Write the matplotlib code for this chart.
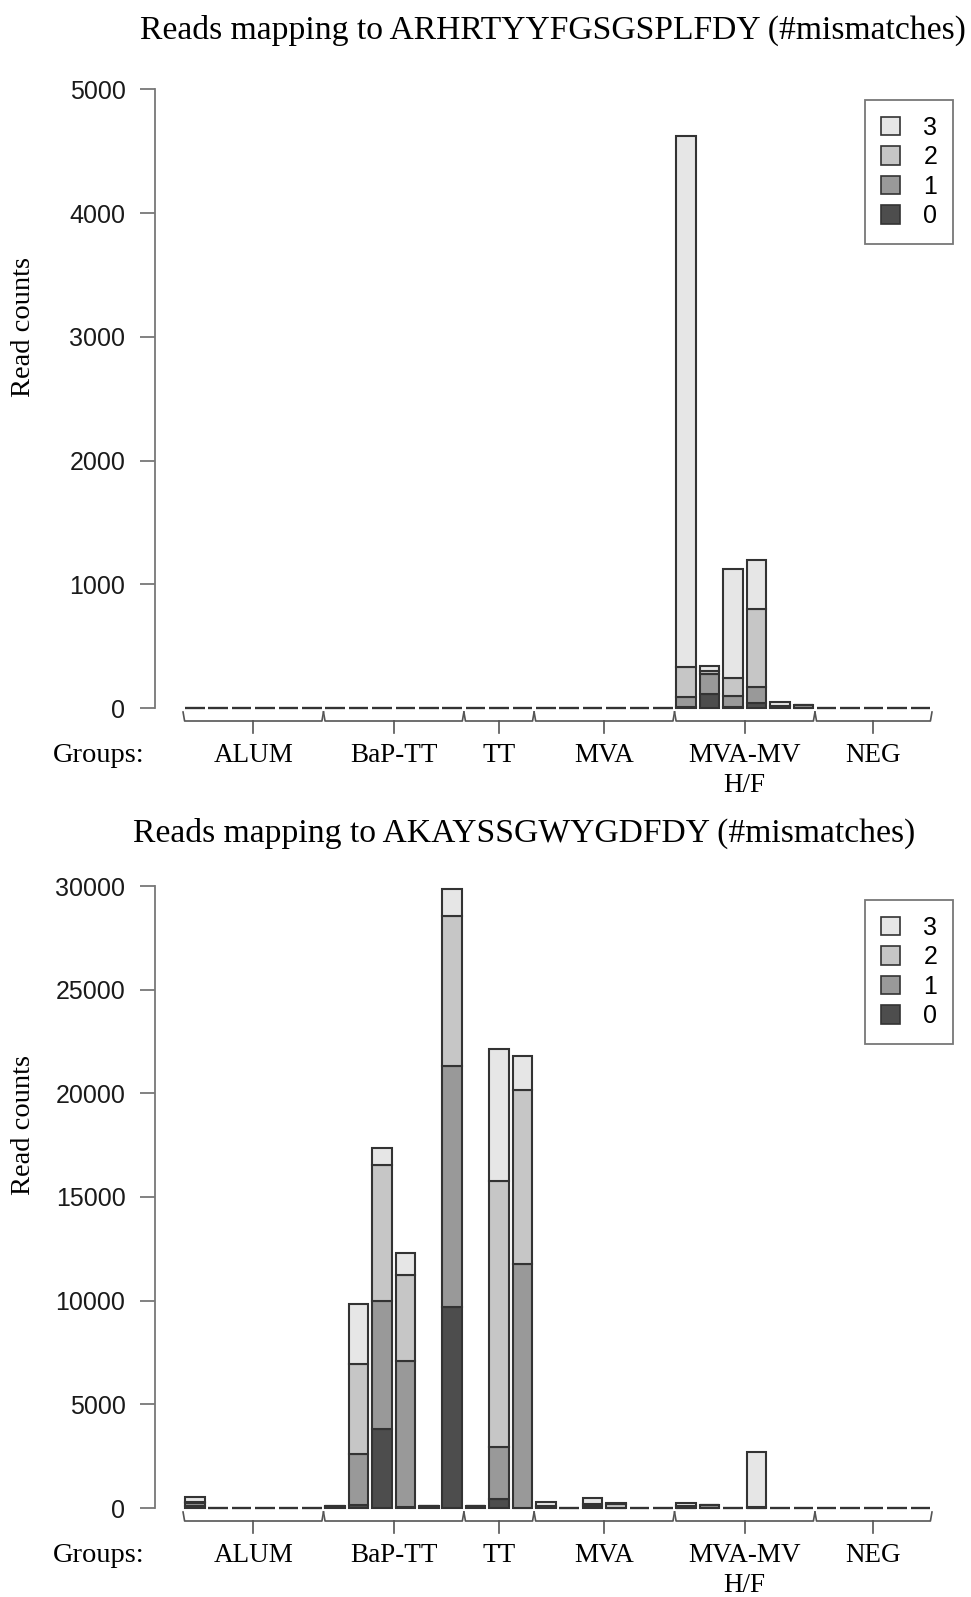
import matplotlib
matplotlib.use("Agg")
import matplotlib.pyplot as plt
from matplotlib.patches import Patch

# groups and bars per group (6+6+3+6+6+5 = 32 samples)
groups = ["ALUM", "BaP-TT", "TT", "MVA", "MVA-MV", "NEG"]
group_sizes = [6, 6, 3, 6, 6, 5]
mismatch_labels = ["0", "1", "2", "3"]

# top panel: ARHRTYYFGSGSPLFDY, read counts per #mismatches
top_mm0 = [0, 0, 0, 0, 0, 0,  0, 0, 0, 0, 0, 0,  0, 0, 0,  0, 0, 0, 0, 0, 0,
           5, 110, 10, 40, 15, 0,  0, 0, 0, 0, 0]
top_mm1 = [0, 0, 0, 0, 0, 0,  0, 0, 0, 0, 0, 0,  0, 0, 0,  0, 0, 0, 0, 0, 0,
           80, 165, 90, 130, 0, 25,  0, 0, 0, 0, 0]
top_mm2 = [0, 0, 0, 0, 0, 0,  0, 0, 0, 0, 0, 0,  0, 0, 0,  0, 0, 0, 0, 0, 0,
           245, 25, 140, 630, 5, 0,  0, 0, 0, 0, 0]
top_mm3 = [0, 0, 0, 0, 0, 0,  0, 0, 0, 0, 0, 0,  0, 0, 0,  0, 0, 0, 0, 0, 0,
           4290, 40, 880, 400, 30, 0,  0, 0, 0, 0, 0]

# bottom panel: AKAYSSGWYGDFDY
bot_mm0 = [100, 0, 0, 0, 0, 0,  40, 150, 3830, 30, 80, 9700,  110, 430, 20,
           50, 0, 80, 20, 0, 0,  0, 20, 0, 10, 0, 0,  0, 0, 0, 0, 0]
bot_mm1 = [150, 0, 0, 0, 0, 0,  40, 2460, 6155, 7070, 0, 11600,  0, 2500, 11750,
           30, 0, 100, 0, 0, 0,  20, 120, 0, 10, 0, 0,  0, 0, 0, 0, 0]
bot_mm2 = [50, 0, 0, 0, 0, 0,  0, 4350, 6540, 4135, 0, 7250,  0, 12840, 8400,
           20, 0, 0, 150, 0, 0,  60, 0, 0, 30, 0, 0,  0, 0, 0, 0, 0]
bot_mm3 = [250, 0, 0, 0, 0, 0,  0, 2880, 850, 1043, 0, 1300,  0, 6365, 1650,
           200, 0, 320, 80, 0, 0,  160, 0, 0, 2650, 0, 0,  0, 0, 0, 0, 0]

top_ticks = [0, 1000, 2000, 3000, 4000, 5000]
bot_ticks = [0, 5000, 10000, 15000, 20000, 25000, 30000]

colors = ["#4d4d4d", "#999999", "#c6c6c6", "#e6e6e6"]
edge = "#333333"
serif = "Liberation Serif"
sans = "Liberation Sans"

W, H = 971, 1597
fig = plt.figure(figsize=(W / 100, H / 100), dpi=100)


def fx(px):
    return px / W


def fy(px):
    return 1 - px / H


n = sum(group_sizes)
centers = [0.7 + 1.2 * i for i in range(n)]


def panel(y0_px, ytop_px, ymax, ticks, series, title, title_x, title_y,
          ylab_y, leg_top):
    ax = fig.add_axes([fx(155), fy(y0_px), fx(800), (y0_px - ytop_px) / H])
    h = y0_px - ytop_px
    bottom = [0] * n
    for k, vals in enumerate(series):
        bars = ax.bar(centers, vals, width=1.0, bottom=bottom, color=colors[k],
                      edgecolor=edge, linewidth=1.5)
        for b in bars:
            b.set_clip_on(False)
        bottom = [b + v for b, v in zip(bottom, vals)]
    ax.set_xlim(-1.338, 39.68)
    ax.set_ylim(0, ymax)
    for s in ["top", "right", "bottom"]:
        ax.spines[s].set_visible(False)
    ax.spines["left"].set_bounds(0, ymax)
    ax.spines["left"].set_color("#777777")
    ax.spines["left"].set_linewidth(1.3)
    ax.set_xticks([])
    ax.set_yticks(ticks)
    ax.tick_params(axis="y", length=10.8, width=1.3, color="#777777",
                   pad=10.5, labelsize=18, labelcolor="#1a1a1a")
    for lab in ax.get_yticklabels():
        lab.set_fontfamily(sans)

    # group brackets under the bars
    tr = ax.get_xaxis_transform()
    start = 0
    for g, size in zip(groups, group_sizes):
        xl = 0.2 + 1.2 * start - 0.1
        xr = 0.2 + 1.2 * (start + size - 1) + 1.0 + 0.1
        xm = (xl + xr) / 2
        yl, ye, yt = -13 / h, -4 / h, -25 / h
        ax.plot([xl, xl + 0.08, xr - 0.08, xr], [ye, yl, yl, ye], color="#555555",
                lw=1.2, transform=tr, clip_on=False)
        ax.plot([xm, xm], [yl, yt], color="#555555", lw=1.2, transform=tr,
                clip_on=False)
        ax.text(xm, -48 / h, g, transform=tr, ha="center", va="center",
                fontsize=19.5, family=serif)
        if g == "MVA-MV":
            ax.text(xm, -77 / h, "H/F", transform=tr, ha="center", va="center",
                    fontsize=19.5, family=serif)
        start += size
    fig.text(fx(53), fy(y0_px + 48), "Groups:", ha="left", va="center",
             fontsize=20.5, family=serif)

    fig.text(fx(title_x), fy(title_y), title, ha="center", va="center",
             fontsize=24.2, family=serif)
    fig.text(fx(23), fy(ylab_y), "Read counts", rotation=90, ha="center",
             va="center", fontsize=20.5, family=serif)

    handles = [Patch(facecolor=colors[k], edgecolor=edge, linewidth=1.2,
                     label=mismatch_labels[k]) for k in [3, 2, 1, 0]]
    leg = ax.legend(handles=handles, loc="upper right",
                    bbox_to_anchor=(fx(953), fy(leg_top)),
                    bbox_transform=fig.transFigure, borderaxespad=0,
                    fancybox=False, prop={"family": sans, "size": 18},
                    handlelength=0.76, handleheight=0.76, handletextpad=0.94,
                    labelspacing=0.22, borderpad=0.63)
    leg.get_frame().set_edgecolor("#555555")
    leg.get_frame().set_linewidth(1.3)
    return ax


panel(708, 89.3, 5000, top_ticks, [top_mm0, top_mm1, top_mm2, top_mm3],
      "Reads mapping to ARHRTYYFGSGSPLFDY (#mismatches)", 553, 30.5, 327, 100)
panel(1508, 886, 30000, bot_ticks, [bot_mm0, bot_mm1, bot_mm2, bot_mm3],
      "Reads mapping to AKAYSSGWYGDFDY (#mismatches)", 524, 833, 1125, 900)

fig.savefig("out.png", dpi=100)
